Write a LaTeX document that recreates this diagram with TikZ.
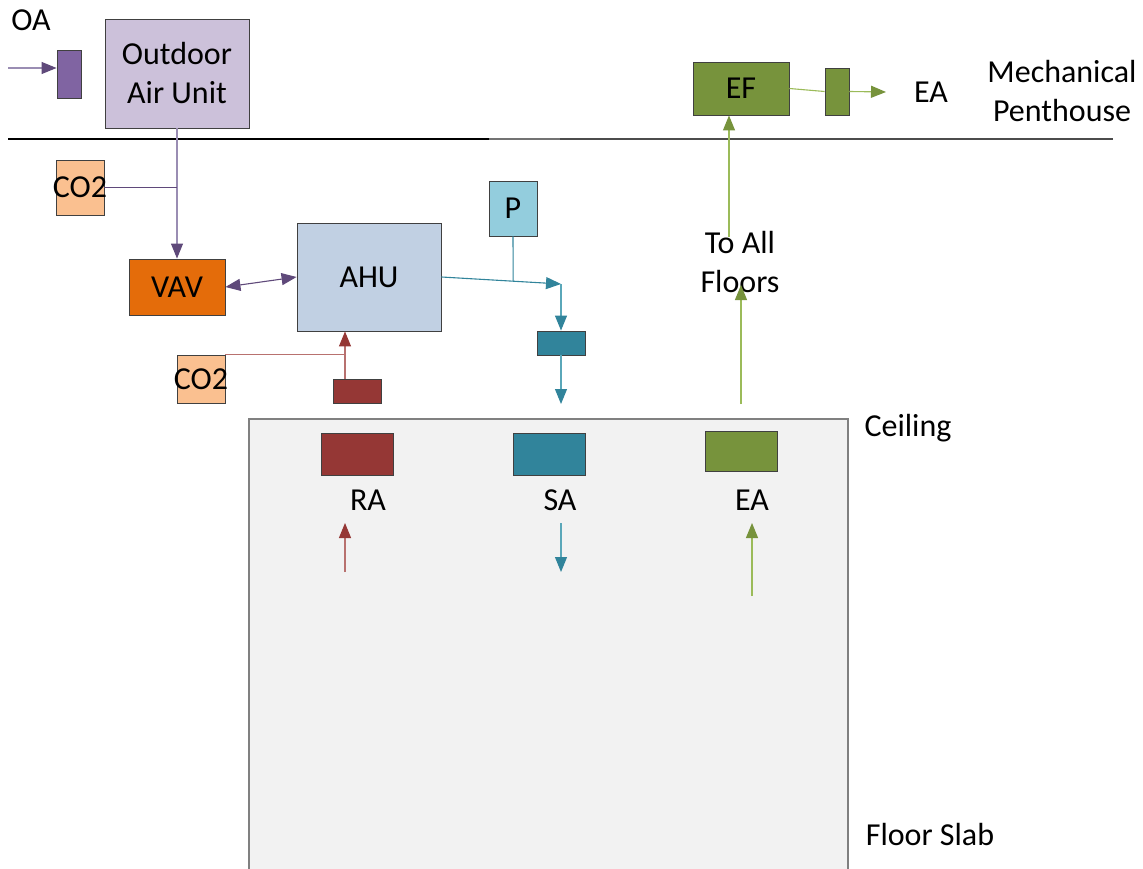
\documentclass[tikz,border=0pt]{standalone}
\usepackage{fontspec}
\setmainfont{Carlito}
\usetikzlibrary{arrows.meta,calc}

\definecolor{oauFill}{HTML}{CCC1DA}
\definecolor{purpleDamper}{HTML}{8064A2}
\definecolor{purpleLine}{HTML}{9A8DB3}
\definecolor{purpleTip}{HTML}{5F497A}
\definecolor{co2Fill}{HTML}{FAC090}
\definecolor{vavFill}{HTML}{E46C0A}
\definecolor{ahuFill}{HTML}{C1D0E3}
\definecolor{pFill}{HTML}{93CDDD}
\definecolor{tealFill}{HTML}{31849B}
\definecolor{tealLine}{HTML}{5AA7B9}
\definecolor{redFill}{HTML}{953735}
\definecolor{redLine}{HTML}{B8716F}
\definecolor{greenFill}{HTML}{77933C}
\definecolor{greenLine}{HTML}{9BBB59}
\definecolor{roomFill}{HTML}{F2F2F2}
\definecolor{edge}{HTML}{404040}

\begin{document}
\begin{tikzpicture}[x=1pt,y=-1pt,
  every node/.style={font=\fontsize{32}{39}\selectfont},
  unit/.style={draw=edge, line width=0.9pt, inner sep=0pt, align=center},
  lbl/.style={inner sep=0pt, align=center},
  tip/.style={-{Triangle[length=15pt,width=12pt,color=#1]}},
  duct/.style={line width=1.1pt}
]
\useasboundingbox (0,0) rectangle (1143,869);

% floor zone between ceiling and slab
\path[fill=roomFill, draw=gray, line width=1.2pt]
  (249,880) -- (249,419) -- (848,419) -- (848,880);

% roof line separating the penthouse
\draw[line width=1.3pt, black] (8,139) -- (489,139);
\draw[line width=1.3pt, black!55] (489,139) -- (560,139);
\draw[line width=1.3pt, black!70] (560,139) -- (1113,139);

% ---------- units ----------
\node[lbl] (oa) at (31,20) {OA};
\node[unit, fill=purpleDamper, minimum width=24pt, minimum height=48pt] (oadamp) at (69,74) {};
\node[unit, fill=oauFill, minimum width=144pt, minimum height=109pt] (oau) at (177,73.5) {Outdoor\\Air Unit};
\node[unit, fill=co2Fill, minimum width=48pt, minimum height=55pt] (co2a) at (80,187.5) {};
\node[lbl] at (co2a) {CO2};
\node[unit, fill=vavFill, minimum width=96pt, minimum height=56pt] (vav) at (177,287) {VAV};
\node[unit, fill=ahuFill, minimum width=144pt, minimum height=108pt] (ahu) at (369,277) {AHU};
\node[unit, fill=pFill, minimum width=48pt, minimum height=55pt] (p) at (513,208.5) {P};
\node[unit, fill=tealFill, minimum width=48pt, minimum height=24pt] (sadamp) at (561,343) {};
\node[unit, fill=redFill, minimum width=48pt, minimum height=24pt] (radamp) at (357,391) {};
\node[unit, fill=co2Fill, minimum width=48pt, minimum height=48pt] (co2b) at (201,379) {};
\node[lbl] at (co2b) {CO2};

% penthouse exhaust
\node[unit, fill=greenFill, minimum width=96pt, minimum height=53pt] (ef) at (741,88.5) {EF};
\node[unit, fill=greenFill, minimum width=24pt, minimum height=47pt] (efdamp) at (837,91.5) {};
\node[lbl] (eaout) at (931,92) {EA};
\node[lbl] (mech) at (1062,91) {Mechanical\\Penthouse};
\node[lbl] (toall) at (740,262) {To All\\Floors};

% grilles in the floor zone
\node[unit, fill=redFill, minimum width=72pt, minimum height=42pt] (ragr) at (357,454) {};
\node[unit, fill=tealFill, minimum width=72pt, minimum height=42pt] (sagr) at (549,454) {};
\node[unit, fill=greenFill, minimum width=72pt, minimum height=40pt] (eagr) at (741,451) {};
\node[lbl] (ra) at (368,500) {RA};
\node[lbl] (sa) at (560,500) {SA};
\node[lbl] (ea) at (752,500) {EA};
\node[lbl] (ceiling) at (908,428) {Ceiling};
\node[lbl] (slab) at (930,835) {Floor Slab};

% ---------- free ends and junctions ----------
\coordinate (oain) at (8,68);
\coordinate (rax) at (345,0);
\coordinate (tj) at (561,284);
\coordinate (pj) at ($(ahu.east)!0.6!(tj)$);
\coordinate (saout) at (561,404);
\coordinate (eabot) at (741,404);
\coordinate (eatip) at (741,285);
\coordinate (upx) at (729,0);
\coordinate (uptop) at (729,237);
\coordinate (exout) at (886,92);
\coordinate (rain0) at (345,572);
\coordinate (rain1) at (345,523);
\coordinate (saf0) at (561,523);
\coordinate (saf1) at (561,572);
\coordinate (eaf0) at (752,596);
\coordinate (eaf1) at (752,523);

% ---------- outdoor air path ----------
\draw[duct, purpleLine, tip=purpleTip] (oain) -- (oadamp.west |- oain);
\draw[duct, purpleLine, tip=purpleTip] (oau.south) -- (vav.north);
\draw[duct, purpleTip] (co2a.east) -- (co2a.east -| oau.south);
\draw[duct, purpleTip, {Triangle[length=15pt,width=12pt]}-{Triangle[length=15pt,width=12pt]}] (vav.east) -- (ahu.west);

% ---------- supply air path ----------
\draw[duct, tealFill, tip=tealFill] (ahu.east) -- (tj);
\draw[duct, tealFill] (p.south) -- (pj);
\draw[duct, tealLine, tip=tealFill] (tj) -- (sadamp.north);
\draw[duct, tealLine, tip=tealFill] (sadamp.south) -- (saout);

% ---------- return air path ----------
\draw[duct, redLine, tip=redFill] (radamp.north -| rax) -- (ahu.south -| rax);
\draw[duct, redLine] (co2b.north east) -- (co2b.north east -| rax);

% ---------- exhaust path ----------
\draw[duct, greenLine, tip=greenFill] (eabot) -- (eatip);
\draw[duct, greenLine, tip=greenFill] (uptop) -- (ef.south -| upx);
\draw[duct, greenLine] (ef.east) -- (efdamp.west);
\draw[duct, greenLine, tip=greenFill] (efdamp.east) -- (exout);

% ---------- room air movement ----------
\draw[duct, redLine, tip=redFill] (rain0) -- (rain1);
\draw[duct, tealLine, tip=tealFill] (saf0) -- (saf1);
\draw[duct, greenLine, tip=greenFill] (eaf0) -- (eaf1);
\end{tikzpicture}
\end{document}
